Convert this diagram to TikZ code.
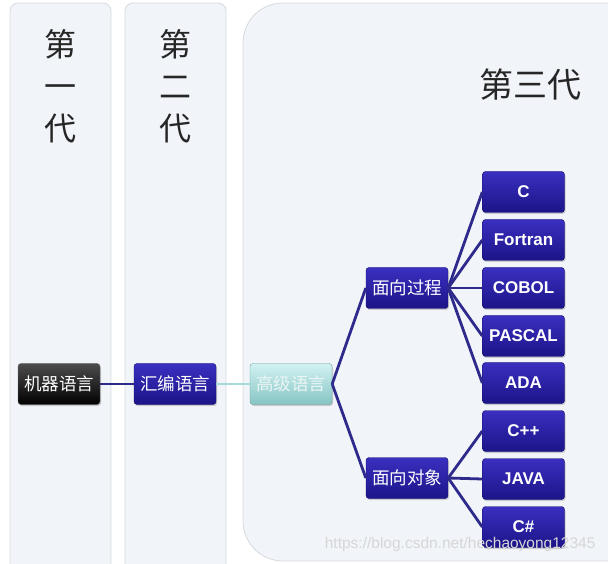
\documentclass[tikz,border=0pt]{standalone}
\usepackage{fontspec}
\setmainfont{Liberation Sans}
\newfontfamily\cjk{Noto Sans CJK SC}
\usepackage{tikz}
\usetikzlibrary{shadows}
\definecolor{panelfill}{HTML}{F1F4F9}
\definecolor{paneldraw}{HTML}{D6D9DE}
\definecolor{navytop}{HTML}{3A2FC0}
\definecolor{navybot}{HTML}{1C1488}
\definecolor{navyline}{HTML}{2E2A8C}
\definecolor{tealtop}{HTML}{D2F2F2}
\definecolor{tealbot}{HTML}{86C4C4}
\definecolor{tealline}{HTML}{A9DADA}
\tikzstyle{panel} = [draw=paneldraw, fill=panelfill, line width=0.8pt]
\tikzstyle{gen} = [font=\cjk\fontsize{32}{42}\selectfont, text=black!85, align=center]
\tikzstyle{block} = [rectangle, rounded corners=3pt, draw=navybot!80!black, top color=navytop, bottom color=navybot, text=white, minimum width=82pt, minimum height=41pt, inner sep=1pt, drop shadow={opacity=0.35, shadow xshift=1pt, shadow yshift=-1.5pt}]
\tikzstyle{cn} = [font=\cjk\fontsize{17.5}{20}\selectfont]
\tikzstyle{lang} = [font=\bfseries\fontsize{17}{20}\selectfont]
\tikzstyle{line} = [draw=navyline, line width=2.8pt]

\begin{document}
\begin{tikzpicture}[node distance=116pt]
	\useasboundingbox (0,0) rectangle (608pt,563pt);
	% the three generations
	\path [panel, rounded corners=8pt] (10pt,-20pt) -- (10pt,560pt) -- (111pt,560pt) -- (111pt,-20pt);
	\path [panel, rounded corners=8pt] (125pt,-20pt) -- (125pt,560pt) -- (226pt,560pt) -- (226pt,-20pt);
	\path [panel, rounded corners=40pt] (640pt,2pt) -- (243pt,2pt) -- (243pt,560pt) -- (640pt,560pt);
	\node [gen] (gen1) at (60pt,477pt) {第\\一\\代};
	\node [gen] (gen2) at (175pt,477pt) {第\\二\\代};
	\node [gen, font=\cjk\fontsize{34}{40}\selectfont] (gen3) at (530pt,478pt) {第三代};
	% tree
	\node [block, cn, draw=black!60, top color=black!70, bottom color=black] (machine) at (59pt,179pt) {机器语言};
	\node [block, cn, right of=machine] (asm) {汇编语言};
	\node [block, cn, right of=asm, draw=tealbot!80!black, top color=tealtop, bottom color=tealbot, text=white!92!teal] (high) {高级语言};
	\node [block, cn, right of=high, yshift=96pt] (proc) {面向过程};
	\node [block, cn, right of=high, yshift=-94pt] (obj) {面向对象};
	\node [block, lang, right of=proc, xshift=0.5pt, yshift=96pt] (c) {C};
	\node [block, lang, below of=c, node distance=48pt] (fortran) {Fortran};
	\node [block, lang, below of=fortran, node distance=48pt] (cobol) {COBOL};
	\node [block, lang, below of=cobol, node distance=48pt] (pascal) {PASCAL};
	\node [block, lang, below of=pascal, node distance=47pt] (ada) {ADA};
	\node [block, lang, below of=ada, node distance=48pt] (cpp) {C++};
	\node [block, lang, below of=cpp, node distance=48pt] (java) {JAVA};
	\node [block, lang, below of=java, node distance=48pt] (csharp) {C\#};
	\node [anchor=east, text=black!16, font=\fontsize{15.5}{18}\selectfont] (mark) at (599pt,19pt) {https://blog.csdn.net/hechaoyong12345};
	\path [line] (machine) -- (asm);
	\path [line, draw=tealline] (asm) -- (high);
	\path [line] (high.east) -- (proc.west);
	\path [line] (high.east) -- (obj.west);
	\foreach \leaf in {c,fortran,cobol,pascal,ada}
		\path [line] (proc.east) -- (\leaf.west);
	\foreach \leaf in {cpp,java,csharp}
		\path [line] (obj.east) -- (\leaf.west);
\end{tikzpicture}
\end{document}
